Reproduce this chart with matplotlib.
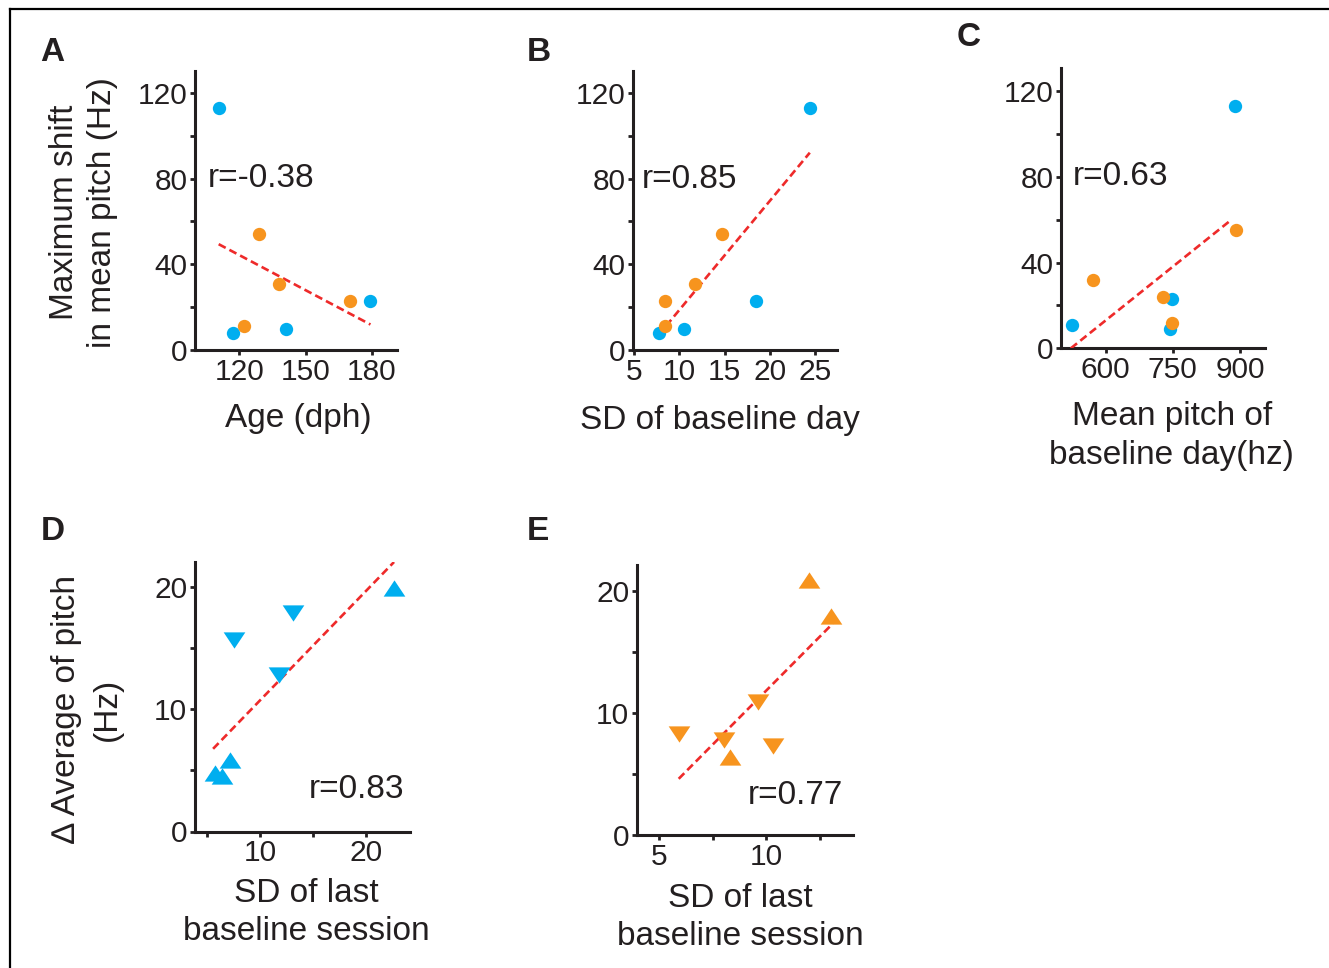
import numpy as np
import matplotlib
matplotlib.use("Agg")
import matplotlib.pyplot as plt
from matplotlib.lines import Line2D
from matplotlib.ticker import MultipleLocator, FixedLocator

plt.rcParams['font.family'] = ['Liberation Sans', 'DejaVu Sans']

# --- data ---
# A: age vs maximum shift
a_blue_x = [111, 117, 141, 179]
a_blue_y = [113, 8, 10, 23]
a_orange_x = [129, 122, 138, 170]
a_orange_y = [54, 11, 31, 23]
a_fit_x = [110.7, 179.3]
a_fit_y = [49.4, 11.9]

# B: SD of baseline day vs maximum shift
b_blue_x = [24.4, 7.8, 10.5, 18.5]
b_blue_y = [113, 8, 10, 23]
b_orange_x = [14.7, 8.4, 11.7, 8.4]
b_orange_y = [54, 11, 31, 23]
b_fit_x = [7.7, 24.4]
b_fit_y = [6.9, 92.1]

# C: mean pitch of baseline day vs maximum shift
c_blue_x = [888, 525, 744, 749]
c_blue_y = [113, 11, 9, 23]
c_orange_x = [891, 749, 571, 727]
c_orange_y = [55, 12, 32, 24]
c_fit_x = [522, 880]
c_fit_y = [0, 59.8]

# D: SD of last baseline session vs delta average of pitch (blue)
d_up_x = [22.6, 7.2, 5.8, 6.4]
d_up_y = [19.9, 5.8, 4.8, 4.5]
d_down_x = [13.1, 7.6, 11.8]
d_down_y = [17.8, 15.6, 12.8]
d_fit_x = [5.6, 22.6]
d_fit_y = [6.75, 22.0]

# E: same, orange
e_up_x = [12.0, 13.0, 8.3]
e_up_y = [20.9, 17.9, 6.4]
e_down_x = [9.6, 5.9, 8.0, 10.3]
e_down_y = [10.9, 8.3, 7.8, 7.3]
e_fit_x = [5.9, 13.1]
e_fit_y = [4.6, 17.3]

r_texts = ['r=-0.38', 'r=0.85', 'r=0.63', 'r=0.83', 'r=0.77']

BLUE = '#00aeef'
ORANGE = '#f7941e'
RED = '#ee2a2a'
INK = '#231f20'
FS = 21.5      # tick labels
FL = 24        # axis labels, r values, panel letters

W, H = 1329, 968
fig = plt.figure(figsize=(W / 100, H / 100), dpi=100)


def box(left, right, top, bottom):
    return [left / W, 1 - bottom / H, (right - left) / W, (bottom - top) / H]


def style(ax):
    for s in ['top', 'right']:
        ax.spines[s].set_visible(False)
    for s in ['left', 'bottom']:
        ax.spines[s].set_linewidth(2.2)
        ax.spines[s].set_color(INK)
    ax.tick_params(which='both', direction='out', length=3.5, width=2,
                   color=INK, labelsize=FS, labelcolor=INK, pad=2)
    ax.set_facecolor('none')


def fit_line(ax, x, y):
    ax.plot(x, y, color=RED, lw=1.9, dashes=(3.0, 1.6), zorder=3)


up = [(-1, -0.75), (1, -0.75), (0, 0.75), (-1, -0.75)]
down = [(-1, 0.75), (1, 0.75), (0, -0.75), (-1, 0.75)]

# ---- A ----
axA = fig.add_axes(box(195, 397, 71.5, 350))
axA.scatter(a_blue_x, a_blue_y, s=92, color=BLUE, lw=0, zorder=4)
axA.scatter(a_orange_x, a_orange_y, s=92, color=ORANGE, lw=0, zorder=4)
fit_line(axA, a_fit_x, a_fit_y)
axA.set_xlim(100, 191.3)
axA.set_ylim(0, 130)
axA.xaxis.set_major_locator(FixedLocator([120, 150, 180]))

# ---- B ----
axB = fig.add_axes(box(633, 837, 71.5, 350))
axB.scatter(b_blue_x, b_blue_y, s=92, color=BLUE, lw=0, zorder=4)
axB.scatter(b_orange_x, b_orange_y, s=92, color=ORANGE, lw=0, zorder=4)
fit_line(axB, b_fit_x, b_fit_y)
axB.set_xlim(4.9, 27.4)
axB.set_ylim(0, 130)
axB.xaxis.set_major_locator(FixedLocator([5, 10, 15, 20, 25]))

# ---- C ----
axC = fig.add_axes(box(1061, 1265, 68, 348.3))
axC.scatter(c_blue_x, c_blue_y, s=92, color=BLUE, lw=0, zorder=4)
axC.scatter(c_orange_x, c_orange_y, s=92, color=ORANGE, lw=0, zorder=4)
fit_line(axC, c_fit_x, c_fit_y)
axC.set_xlim(500, 956)
axC.set_ylim(0, 130.7)
axC.xaxis.set_major_locator(FixedLocator([600, 750, 900]))

for ax in (axA, axB, axC):
    ax.yaxis.set_major_locator(MultipleLocator(40))
    ax.yaxis.set_minor_locator(MultipleLocator(20))

# ---- D ----
axD = fig.add_axes(box(195, 410, 562, 831.5))
axD.scatter(d_up_x, d_up_y, s=15.6 ** 2, marker=up, color=BLUE, lw=0, zorder=4)
axD.scatter(d_down_x, d_down_y, s=15.6 ** 2, marker=down, color=BLUE, lw=0, zorder=4)
fit_line(axD, d_fit_x, d_fit_y)
axD.set_xlim(3.9, 24.1)
axD.set_ylim(0, 22)
axD.xaxis.set_major_locator(FixedLocator([10, 20]))
axD.xaxis.set_minor_locator(FixedLocator([5, 15]))

# ---- E ----
axE = fig.add_axes(box(637, 853, 565, 835))
axE.scatter(e_up_x, e_up_y, s=15.6 ** 2, marker=up, color=ORANGE, lw=0, zorder=4)
axE.scatter(e_down_x, e_down_y, s=15.6 ** 2, marker=down, color=ORANGE, lw=0, zorder=4)
fit_line(axE, e_fit_x, e_fit_y)
axE.set_xlim(3.95, 14.05)
axE.set_ylim(0, 22.1)
axE.xaxis.set_major_locator(FixedLocator([5, 10]))
axE.xaxis.set_minor_locator(FixedLocator([7.5, 12.5]))

for ax in (axD, axE):
    ax.yaxis.set_major_locator(MultipleLocator(10))
    ax.yaxis.set_minor_locator(MultipleLocator(5))

axes = [axA, axB, axC, axD, axE]
for ax in axes:
    style(ax)

# r values
r_pos = [(0.061, 0.587), (0.043, 0.582), (0.06, 0.584), (0.527, 0.126), (0.515, 0.114)]
for ax, txt, (rx, ry) in zip(axes, r_texts, r_pos):
    ax.text(rx, ry, txt, transform=ax.transAxes, ha='left', va='baseline',
            fontsize=FL, color=INK, zorder=5)

# axis labels
xlabels = ['Age (dph)', 'SD of baseline day', 'Mean pitch of\nbaseline day(hz)',
           'SD of last\nbaseline session', 'SD of last\nbaseline session']
xlab_pos = [(0.51, -0.245), (0.424, -0.252), (0.543, -0.313), (0.52, -0.30), (0.477, -0.306)]
for ax, lab, (lx, ly) in zip(axes, xlabels, xlab_pos):
    ax.set_xlabel(lab, fontsize=FL, color=INK, va='center', linespacing=1.3)
    ax.xaxis.set_label_coords(lx, ly)

axA.set_ylabel('Maximum shift\nin mean pitch (Hz)', fontsize=FL, color=INK,
               va='center', linespacing=1.3)
axA.yaxis.set_label_coords(-0.552, 0.495)
axD.set_ylabel('\u2206 Average of pitch\n(Hz)', fontsize=FL, color=INK,
               va='center', linespacing=1.4)
axD.yaxis.set_label_coords(-0.504, 0.453)

# panel letters
letters = [('A', 40, 61), ('B', 527, 61), ('C', 957, 46), ('D', 41, 540), ('E', 527, 540)]
for t, px, py in letters:
    fig.text(px / W, 1 - py / H, t, fontsize=FL, fontweight='bold', color=INK,
             ha='left', va='baseline')

# outer frame (top and left edges visible)
fig.add_artist(Line2D([10 / W, 10 / W], [0, 1 - 9 / H], transform=fig.transFigure,
                      color='black', lw=1.6))
fig.add_artist(Line2D([10 / W, 1], [1 - 9 / H, 1 - 9 / H], transform=fig.transFigure,
                      color='black', lw=1.6))

fig.savefig('out.png', dpi=100)
